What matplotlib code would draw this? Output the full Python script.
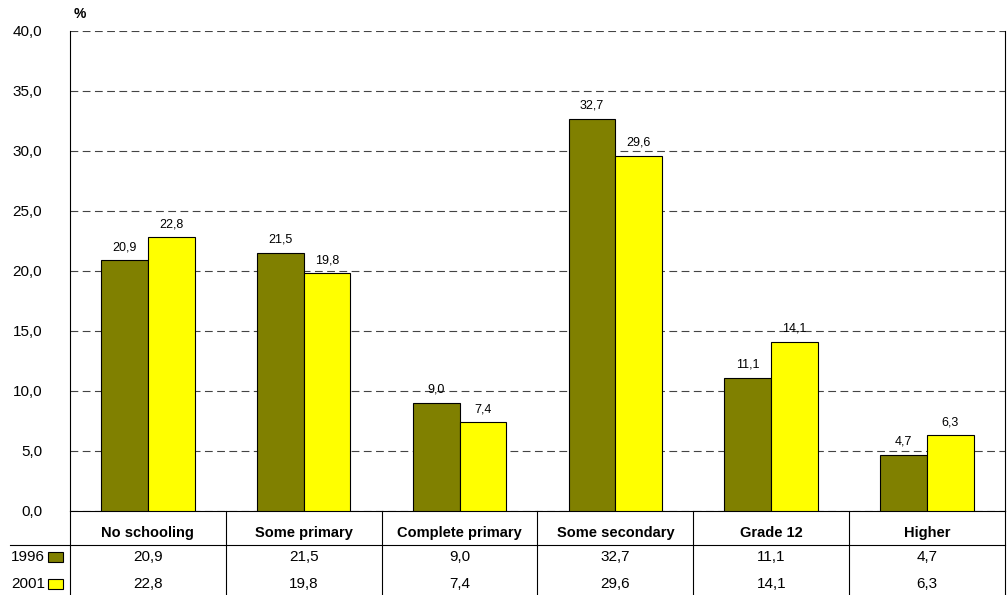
import numpy as np
import matplotlib.pyplot as plt
from matplotlib.patches import Rectangle

plt.rcParams['font.family'] = ['Liberation Sans Narrow', 'Liberation Sans', 'DejaVu Sans']

categories = ["No schooling", "Some primary", "Complete primary", "Some secondary", "Grade 12", "Higher"]
years = ["1996", "2001"]
v1996 = [20.9, 21.5, 9.0, 32.7, 11.1, 4.7]
v2001 = [22.8, 19.8, 7.4, 29.6, 14.1, 6.3]
colors = ["#808000", "#FFFF00"]

def fmt(v):
    return f"{v:.1f}".replace(".", ",")

fig = plt.figure(figsize=(10.08, 5.95), dpi=100)
ax = fig.add_axes([70/1008, 1 - 511/595, 935/1008, 480/595])

x = np.arange(len(categories))
w = 0.3
series = [v1996, v2001]
for i, vals in enumerate(series):
    pos = x - w/2 + i*w
    ax.bar(pos, vals, width=w, color=colors[i], edgecolor="black", linewidth=0.8, zorder=3)
    for p, v in zip(pos, vals):
        ax.text(p, v + 0.6, fmt(v), ha="center", va="bottom", fontsize=9)

ax.set_xlim(-0.5, len(categories) - 0.5)
ax.set_ylim(0, 40)
ax.set_yticks(np.arange(0, 41, 5))
ax.set_yticklabels([fmt(t) for t in np.arange(0, 41, 5)], fontsize=11)
ax.tick_params(axis="y", length=0, pad=20)
ax.set_xticks([])
ax.grid(axis="y", linestyle=(0, (7, 4)), color="#444444", linewidth=0.8, zorder=0)
ax.spines["top"].set_visible(False)
for s in ["left", "right", "bottom"]:
    ax.spines[s].set_linewidth(0.8)

ax.text(0.004, 1.035, "%", transform=ax.transAxes, fontsize=10, fontweight="bold", ha="left", va="center")

# data table below the axes
tr = ax.get_xaxis_transform()
ah = 480.0
unit = 935/6
y_head = -34/ah
y_rows = [-46/ah, -73/ah]
y_end = -0.2
for b in np.arange(-0.5, len(categories), 1.0):
    ax.plot([b, b], [0, y_end], transform=tr, color="black", lw=0.8, clip_on=False)
left_x = -0.5 - 60/unit
ax.plot([left_x, len(categories) - 0.5], [y_head, y_head], transform=tr, color="black", lw=0.8, clip_on=False)

for xi, c in zip(x, categories):
    ax.text(xi, -22/ah, c, transform=tr, ha="center", va="center", fontsize=10.5, fontweight="bold")
    for r, vals in enumerate(series):
        ax.text(xi, y_rows[r], fmt(vals[xi]), transform=tr, ha="center", va="center", fontsize=11)

for r, yr in enumerate(years):
    ax.text(-0.5 - 25/unit, y_rows[r], yr, transform=tr, ha="right", va="center", fontsize=11)
    ax.add_patch(Rectangle((-0.5 - 22/unit, y_rows[r] - 5/ah), 15/unit, 10/ah, transform=tr,
                           facecolor=colors[r], edgecolor="black", lw=0.8, clip_on=False))

fig.savefig("out.png", dpi=100)
